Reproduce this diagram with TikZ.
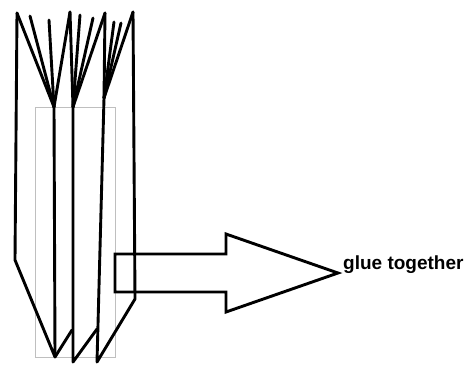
\documentclass[tikz,border=0pt]{standalone}
\usepackage{fontspec}
\setmainfont{Liberation Sans}
\begin{document}
\begin{tikzpicture}[x=1pt,y=-1pt,
  stroke/.style={draw=black,line width=2.9pt,line cap=round,line join=round},
  frame/.style={draw=black!25,line width=1pt},
  label/.style={font=\bfseries\fontsize{19}{21}\selectfont,anchor=base west,inner sep=0pt}]
\useasboundingbox (0,0) rectangle (470,365);
% glue region
\draw[frame] (35,107) rectangle (115,357);
% bottoms of the three folds
\coordinate (v1) at (54,107);
\coordinate (v2) at (73,107);
\coordinate (v3) at (104,98);
% fanned sheets of each fold
\foreach \t in {(17,13),(30,16),(49,20),(70,12)} \draw[stroke] (v1) -- \t;
\foreach \t in {(70,12),(80,15),(93,18),(105,13)} \draw[stroke] (v2) -- \t;
\foreach \t in {(105,13),(114,22),(121,23),(133,12)} \draw[stroke] (v3) -- \t;
% outer edges and spines with the zigzag bottom
\draw[stroke] (17,13) -- (15,260) -- (55,357) -- (v1);
\draw[stroke] (55,357) -- (72,330);
\draw[stroke] (v2) -- (73,362) -- (97,329);
\draw[stroke] (v3) -- (97,362) -- (135,299) -- (133,12);
% block arrow
\draw[stroke,line cap=butt,line join=miter] (115,254) -- (226,254) -- (226,234) -- (338,273)
  -- (226,312) -- (226,292) -- (115,292) -- cycle;
\node[label] (glue) at (343,269) {glue together};
\end{tikzpicture}
\end{document}
